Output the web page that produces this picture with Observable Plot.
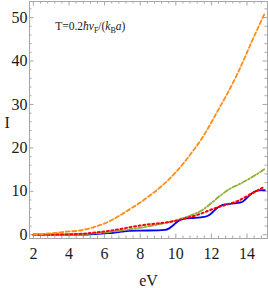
<!DOCTYPE html>
<html><head><meta charset="utf-8">
<script src="https://cdn.jsdelivr.net/npm/d3@7"></script>
<script src="https://cdn.jsdelivr.net/npm/@observablehq/plot@0.6"></script>
<style>
body{margin:0;background:#fff;}
#chart{width:268px;height:288px;overflow:hidden;}
</style></head><body><div id="chart"></div>
<script>
// ---- data ----
const blueX = [2,3,4,5,5.5,6,6.5,6.8,7.1,7.4,8,9,9.4,9.6,9.8,10.0,10.2,10.4,10.6,11,11.4,11.7,11.9,12.1,12.3,12.5,12.7,13,13.4,13.7,13.9,14.1,14.3,14.5,14.7,15];
const blueY = [0,0,0.02,0.05,0.15,0.3,0.45,0.6,0.8,0.9,0.95,1.0,1.1,1.4,2.0,2.7,3.3,3.6,3.75,3.85,4.0,4.2,4.6,5.3,6.1,6.6,6.95,7.1,7.3,7.5,8.1,8.9,9.6,10.05,10.2,10.25];

const redX = [2,3,4,5,5.5,6,6.5,7,7.5,8,8.5,9,9.5,10,10.5,11,11.5,12,12.5,13,13.5,14,14.5,15];
const redY = [0,0.02,0.08,0.3,0.5,0.75,1.05,1.4,1.8,2.1,2.4,2.6,2.85,3.2,3.75,4.3,5.0,5.8,6.5,7.1,7.8,8.9,10.0,11.1];

const greenX = [2,3,4,5,6,6.5,7,7.5,8,8.5,9,9.5,10,10.5,11,11.5,12,12.5,13,13.5,14,14.5,15];
const greenY = [0,0.02,0.06,0.2,0.5,0.75,1.0,1.3,1.6,1.95,2.35,2.8,3.3,3.95,4.7,5.7,7.3,9.0,10.5,11.5,12.6,13.8,15.2];

const orangeX = [2,2.5,3,3.5,4,4.5,5,5.5,6,6.5,7,7.5,8,8.5,9,9.5,10,10.5,11,11.5,12,12.5,13,13.5,14,14.5,15];
const orangeY = [0.05,0.15,0.35,0.55,0.75,0.9,1.3,1.9,2.6,3.6,4.8,6.1,7.4,8.9,10.5,12.3,14.4,16.8,19.5,22.4,25.9,29.6,33.3,37.4,42.0,46.6,51.0];

const xTickLabels = [2,4,6,8,10,12,14];
const yTickLabels = [0,10,20,30,40,50];
const xLabel = "eV";
const yLabel = "I";
const annotation = "T=0.2ħvF/(kBa)";

// ---- layout ----
const W = 268, H = 288, mL = 29, mR = 1, mT = 1, mB = 50;
const xDomain = [1.78, 15.15], yDomain = [-0.87, 53.7];
const kx = (W - mL - mR) / (xDomain[1] - xDomain[0]);
const ky = (H - mT - mB) / (yDomain[1] - yDomain[0]);
const frameColor = "#a6a6a6";
const serif = "'Liberation Serif', 'DejaVu Serif', serif";

const xMinor = d3.range(2, 15.15, 0.4).map(v => +v.toFixed(2)).filter(v => Math.abs(v/2 - Math.round(v/2)) > 1e-6);
const yMinor = d3.range(0, 53.7, 2).filter(v => v % 10 !== 0);

const series = (xs, ys) => xs.map((x, i) => ({x, y: ys[i]}));

function tickMarks(vals, len, axis) {
  if (axis === "x") return [
    Plot.ruleX(vals, {x: d => d, y1: yDomain[0], y2: yDomain[0] + len / ky, stroke: frameColor, strokeWidth: 1}),
    Plot.ruleX(vals, {x: d => d, y1: yDomain[1], y2: yDomain[1] - len / ky, stroke: frameColor, strokeWidth: 1})
  ];
  return [
    Plot.ruleY(vals, {y: d => d, x1: xDomain[0], x2: xDomain[0] + len / kx, stroke: frameColor, strokeWidth: 1}),
    Plot.ruleY(vals, {y: d => d, x1: xDomain[1], x2: xDomain[1] - len / kx, stroke: frameColor, strokeWidth: 1})
  ];
}

const chart = Plot.plot({
  width: W, height: H,
  marginLeft: mL, marginRight: mR, marginTop: mT, marginBottom: mB,
  style: {fontFamily: serif, background: "#fff", overflow: "visible"},
  x: {domain: xDomain},
  y: {domain: yDomain},
  marks: [
    ...tickMarks(xTickLabels, 4.5, "x"),
    ...tickMarks(xMinor, 2.5, "x"),
    ...tickMarks(yTickLabels, 4.5, "y"),
    ...tickMarks(yMinor, 2.5, "y"),
    Plot.frame({stroke: frameColor, strokeWidth: 1}),
    Plot.axisX(xTickLabels, {tickSize: 0, tickPadding: 9, fontSize: 16, label: null, fill: "#1a1a1a", fontFamily: serif}),
    Plot.axisY(yTickLabels, {tickSize: 0, tickPadding: 2, fontSize: 16, label: null, fill: "#1a1a1a", fontFamily: serif}),
    Plot.text([xLabel], {frameAnchor: "bottom", dy: 42, fontSize: 16, fill: "#1a1a1a", fontFamily: serif, lineAnchor: "middle"}),
    Plot.text([yLabel], {frameAnchor: "left", dx: -25, dy: 3, fontSize: 16, fill: "#1a1a1a", fontFamily: serif, lineAnchor: "middle"}),
    Plot.text([annotation], {x: 3.22, y: 48.0, textAnchor: "start", lineAnchor: "middle", fontSize: 11.5, fill: "#1a1a1a", fontFamily: serif}),
    Plot.line(series(blueX, blueY), {x: "x", y: "y", stroke: "#0000ff", strokeWidth: 1.8, curve: "monotone-x"}),
    Plot.line(series(greenX, greenY), {x: "x", y: "y", stroke: "#8fb032", strokeWidth: 1.8, strokeDasharray: "5,2,1.5,2", curve: "monotone-x"}),
    Plot.line(series(redX, redY), {x: "x", y: "y", stroke: "#ff0000", strokeWidth: 2, strokeDasharray: "2,2.6", curve: "monotone-x"}),
    Plot.line(series(orangeX, orangeY), {x: "x", y: "y", stroke: "#ff8c14", strokeWidth: 1.8, strokeDasharray: "4,2.5", curve: "monotone-x"})
  ]
});

// rich formatting of the annotation (italic symbols and subscripts)
d3.select(chart).selectAll("text").filter(function() { return this.textContent === annotation; }).each(function() {
  const t = d3.select(this);
  t.text(null);
  const parts = [
    ["T=0.2", {}], ["ħv", {italic: true}], ["F", {sub: true}], ["/(", {}],
    ["k", {italic: true}], ["B", {sub: true}], ["a", {italic: true}], [")", {}]
  ];
  let shifted = false;
  for (const [s, o] of parts) {
    const ts = t.append("tspan").text(s);
    if (o.italic) ts.attr("font-style", "italic");
    if (o.sub) { ts.attr("font-size", 8).attr("dy", 3); shifted = true; }
    else if (shifted) { ts.attr("dy", -3); shifted = false; }
  }
});

document.getElementById("chart").appendChild(chart);
</script>
</body></html>
